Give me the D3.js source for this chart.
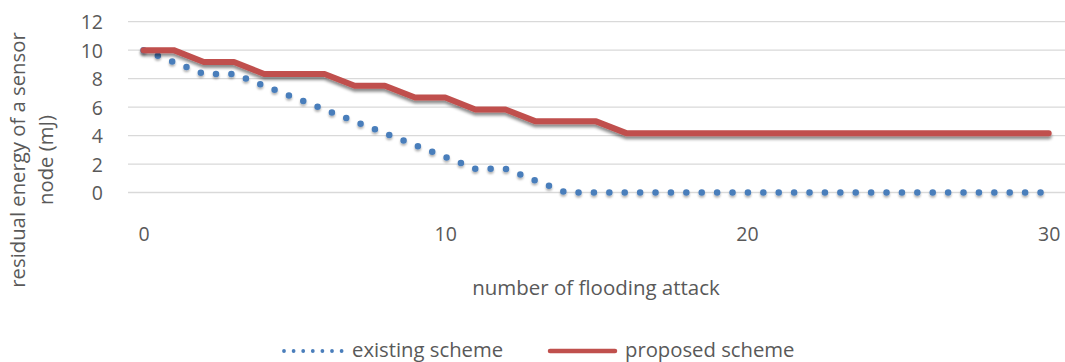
<!DOCTYPE html>
<html>
<head>
<meta charset="utf-8">
<script src="https://cdn.jsdelivr.net/npm/d3@7"></script>
<style>
  html, body { margin: 0; padding: 0; background: #fff; }
  svg { display: block; }
  text { font-family: "Open Sans", sans-serif; fill: #595959; }
</style>
</head>
<body>
<svg id="chart" width="1065" height="362"></svg>
<script>
// Attack counts on the x axis
const attacks = d3.range(0, 31);

// Residual energy (mJ) per attack count
const existingScheme = [10, 9.17, 8.33, 8.33, 7.5, 6.67, 5.83, 5, 4.17, 3.33,
  2.5, 1.67, 1.67, 0.83, 0, 0, 0, 0, 0, 0,
  0, 0, 0, 0, 0, 0, 0, 0, 0, 0, 0];
const proposedScheme = [10, 10, 9.17, 9.17, 8.33, 8.33, 8.33, 7.5, 7.5, 6.67,
  6.67, 5.83, 5.83, 5, 5, 5, 4.17, 4.17, 4.17, 4.17,
  4.17, 4.17, 4.17, 4.17, 4.17, 4.17, 4.17, 4.17, 4.17, 4.17, 4.17];

const yTicks = [0, 2, 4, 6, 8, 10, 12];
const xTicks = [0, 10, 20, 30];

const xTitle = "number of flooding attack";
const yTitleLines = ["residual energy of a sensor", "node (mJ)"];
const seriesNames = ["existing scheme", "proposed scheme"];

const FS = 19.5;

const svg = d3.select("#chart");

const x = d3.scaleLinear().domain([0, 30]).range([143.5, 1048.7]);
const y = d3.scaleLinear().domain([0, 12]).range([192.5, 21.7]);

// soft drop shadows under the series lines
const defs = svg.append("defs");
const f = defs.append("filter").attr("id", "shadow")
  .attr("x", "-5%").attr("y", "-50%").attr("width", "110%").attr("height", "200%");
f.append("feDropShadow").attr("dx", 0).attr("dy", 3).attr("stdDeviation", 1.8)
  .attr("flood-color", "#000").attr("flood-opacity", 0.45);
const f2 = defs.append("filter").attr("id", "shadowLight")
  .attr("x", "-5%").attr("y", "-50%").attr("width", "110%").attr("height", "200%");
f2.append("feDropShadow").attr("dx", 0).attr("dy", 2).attr("stdDeviation", 1.2)
  .attr("flood-color", "#000").attr("flood-opacity", 0.3);

// horizontal gridlines
svg.append("g")
  .selectAll("line")
  .data(yTicks)
  .join("line")
  .attr("x1", 128).attr("x2", 1065)
  .attr("y1", d => y(d)).attr("y2", d => y(d))
  .attr("stroke", "#d9d9d9").attr("stroke-width", 1.3);

// y-axis tick labels
const yAxis = d3.axisLeft(y).tickValues(yTicks).tickSize(0).tickPadding(0);
const gy = svg.append("g").attr("transform", "translate(103,0)").call(yAxis);
gy.select(".domain").remove();
gy.selectAll("text").attr("font-size", FS).attr("fill", "#595959")
  .attr("font-family", "'Open Sans', sans-serif").attr("dy", "0.36em");

// x-axis tick labels
const xAxis = d3.axisBottom(x).tickValues(xTicks).tickSize(0).tickPadding(0);
const gx = svg.append("g").attr("transform", "translate(0,241)").call(xAxis);
gx.select(".domain").remove();
gx.selectAll("text").attr("font-size", FS).attr("fill", "#595959")
  .attr("font-family", "'Open Sans', sans-serif").attr("y", 0).attr("dy", 0);

// axis titles
svg.append("text")
  .attr("transform", "translate(596,295) scale(1.05,1)")
  .attr("text-anchor", "middle")
  .attr("font-size", FS)
  .text(xTitle);

const yt = svg.append("text")
  .attr("transform", "translate(0,160) rotate(-90)")
  .attr("text-anchor", "middle")
  .attr("font-size", 20.3);
yt.selectAll("tspan")
  .data(yTitleLines)
  .join("tspan")
  .attr("x", 0)
  .attr("y", (d, i) => 25 + i * 28)
  .text(d => d);

// series lines
const line = d3.line()
  .x((d, i) => x(attacks[i]))
  .y(d => y(d));

svg.append("path")
  .datum(existingScheme)
  .attr("d", line)
  .attr("fill", "none")
  .attr("stroke", "#4a7ebb")
  .attr("stroke-width", 6.5)
  .attr("stroke-linecap", "round")
  .attr("stroke-dasharray", "0 15.4")
  .attr("filter", "url(#shadowLight)");

svg.append("path")
  .datum(proposedScheme)
  .attr("d", line)
  .attr("fill", "none")
  .attr("stroke", "#c0504d")
  .attr("stroke-width", 6)
  .attr("stroke-linecap", "round")
  .attr("stroke-linejoin", "round")
  .attr("filter", "url(#shadow)");

// legend
const legend = svg.append("g");
legend.append("line")
  .attr("x1", 284).attr("x2", 342).attr("y1", 351).attr("y2", 351)
  .attr("stroke", "#4a7ebb").attr("stroke-width", 3.8)
  .attr("stroke-linecap", "round").attr("stroke-dasharray", "0 9.6");
legend.append("text")
  .attr("transform", "translate(352,357) scale(1.04,1)")
  .attr("font-size", FS)
  .text(seriesNames[0]);
legend.append("line")
  .attr("x1", 550).attr("x2", 615).attr("y1", 351).attr("y2", 351)
  .attr("stroke", "#c0504d").attr("stroke-width", 4.5)
  .attr("stroke-linecap", "round");
legend.append("text")
  .attr("transform", "translate(625,357) scale(1.04,1)")
  .attr("font-size", FS)
  .text(seriesNames[1]);
</script>
</body>
</html>
